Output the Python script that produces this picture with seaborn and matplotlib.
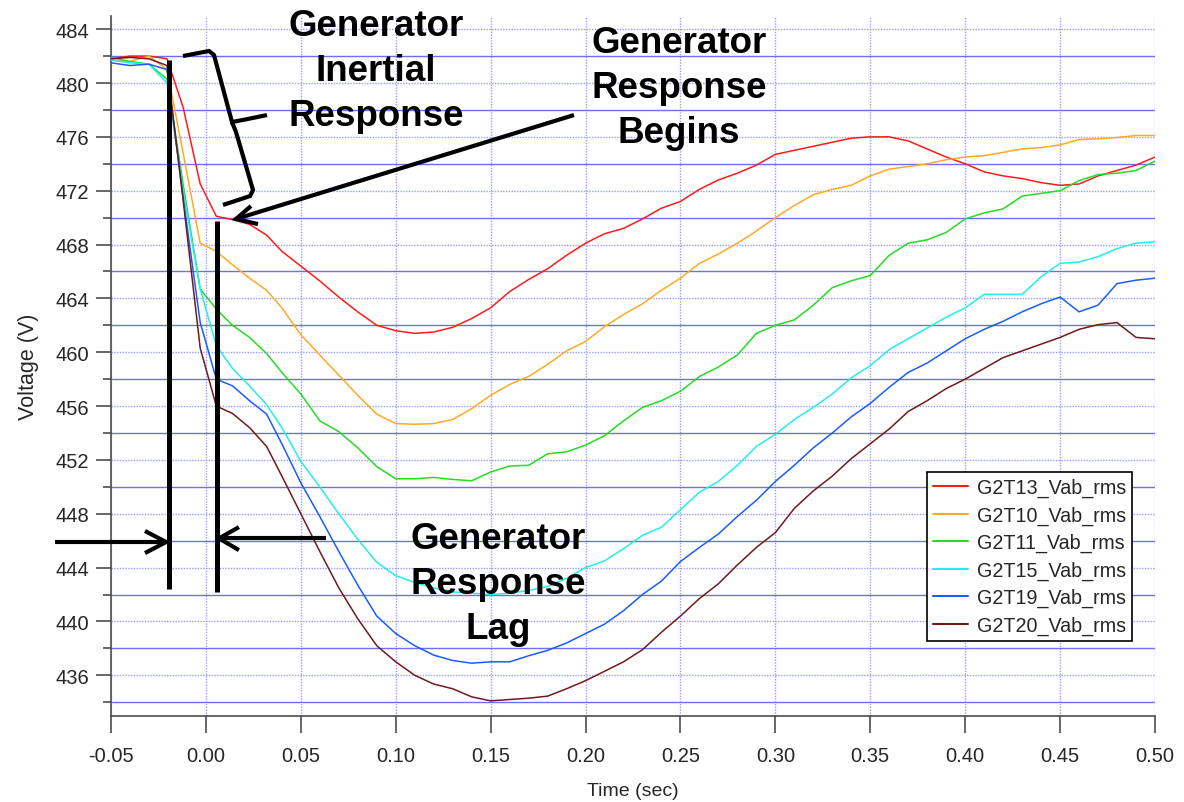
import numpy as np
import pandas as pd
import matplotlib
matplotlib.use("Agg")
import matplotlib.pyplot as plt
from matplotlib.ticker import MultipleLocator, FormatStrFormatter
from matplotlib.lines import Line2D
import seaborn as sns

# ---------------- data ----------------
time_sec = [-0.05, -0.04, -0.03, -0.0205, -0.012, -0.003, 0.0055, 0.014, 0.023, 0.032,
            0.04, 0.05, 0.06, 0.07, 0.08, 0.09, 0.10, 0.11, 0.12, 0.13,
            0.14, 0.15, 0.16, 0.17, 0.18, 0.19, 0.20, 0.21, 0.22, 0.23,
            0.24, 0.25, 0.26, 0.27, 0.28, 0.29, 0.30, 0.31, 0.32, 0.33,
            0.34, 0.35, 0.36, 0.37, 0.38, 0.39, 0.40, 0.41, 0.42, 0.43,
            0.44, 0.45, 0.46, 0.47, 0.48, 0.49, 0.50]

g2t13 = [481.8, 482.0, 482.0, 481.8, 478.2, 472.5, 470.1, 469.85, 469.5, 468.7,
         467.5, 466.4, 465.3, 464.1, 463.0, 462.0, 461.6, 461.4, 461.5, 461.85,
         462.5, 463.3, 464.5, 465.4, 466.2, 467.2, 468.1, 468.8, 469.2, 469.9,
         470.7, 471.2, 472.1, 472.8, 473.3, 473.9, 474.7, 475.0, 475.3, 475.6,
         475.9, 476.0, 476.0, 475.7, 475.1, 474.5, 474.0, 473.4, 473.1, 472.9,
         472.6, 472.4, 472.5, 473.1, 473.5, 473.9, 474.5]

g2t10 = [481.7, 481.6, 482.0, 481.0, 474.8, 468.1, 467.5, 466.5, 465.5, 464.6,
         463.3, 461.3, 459.8, 458.3, 456.8, 455.4, 454.7, 454.65, 454.7, 455.0,
         455.8, 456.8, 457.6, 458.2, 459.1, 460.1, 460.8, 461.9, 462.8, 463.6,
         464.6, 465.5, 466.6, 467.3, 468.1, 469.0, 470.0, 470.9, 471.7, 472.1,
         472.4, 473.1, 473.6, 473.8, 474.0, 474.3, 474.5, 474.6, 474.85, 475.1,
         475.2, 475.4, 475.8, 475.85, 475.95, 476.1, 476.1]

g2t11 = [481.9, 481.6, 481.4, 480.3, 472.5, 464.7, 463.2, 462.0, 461.1, 459.9,
         458.5, 456.9, 454.9, 454.1, 452.9, 451.5, 450.6, 450.6, 450.7, 450.55,
         450.45, 451.1, 451.55, 451.6, 452.45, 452.6, 453.1, 453.8, 454.9, 455.9,
         456.4, 457.1, 458.2, 458.9, 459.8, 461.4, 462.0, 462.4, 463.5, 464.8,
         465.3, 465.7, 467.2, 468.1, 468.35, 468.9, 469.9, 470.35, 470.65, 471.6,
         471.8, 472.0, 472.75, 473.2, 473.3, 473.5, 474.2]

g2t15 = [481.7, 481.5, 481.4, 480.0, 472.0, 464.7, 460.5, 458.8, 457.5, 456.1,
         454.4, 451.9, 450.0, 448.0, 446.1, 444.4, 443.4, 442.9, 442.5, 442.2,
         442.1, 442.0, 442.1, 442.3, 442.6, 443.2, 444.0, 444.5, 445.4, 446.4,
         447.0, 448.3, 449.6, 450.4, 451.6, 453.0, 453.9, 455.0, 455.9, 456.9,
         458.1, 459.0, 460.2, 461.0, 461.8, 462.6, 463.3, 464.3, 464.3, 464.3,
         465.6, 466.6, 466.7, 467.1, 467.7, 468.1, 468.2]

g2t19 = [481.5, 481.3, 481.4, 481.0, 471.5, 462.2, 458.0, 457.5, 456.4, 455.4,
         453.2, 450.3, 447.8, 445.2, 442.7, 440.4, 439.1, 438.2, 437.5, 437.1,
         436.9, 437.0, 437.0, 437.45, 437.85, 438.4, 439.1, 439.8, 440.8, 442.0,
         443.0, 444.45, 445.5, 446.5, 447.8, 449.0, 450.4, 451.6, 452.9, 454.0,
         455.2, 456.2, 457.4, 458.5, 459.2, 460.1, 461.0, 461.7, 462.3, 463.0,
         463.6, 464.1, 463.0, 463.5, 465.1, 465.35, 465.5]

g2t20 = [481.8, 481.9, 481.8, 481.3, 471.3, 460.3, 456.0, 455.45, 454.4, 453.0,
         450.8, 448.0, 445.2, 442.5, 440.2, 438.2, 437.0, 436.0, 435.35, 435.0,
         434.4, 434.1, 434.2, 434.3, 434.45, 435.0, 435.6, 436.3, 437.0, 437.9,
         439.2, 440.4, 441.7, 442.8, 444.2, 445.5, 446.6, 448.4, 449.7, 450.8,
         452.1, 453.2, 454.3, 455.6, 456.4, 457.3, 458.0, 458.8, 459.6, 460.1,
         460.6, 461.1, 461.7, 462.05, 462.2, 461.1, 461.0]

series_names = ["G2T13_Vab_rms", "G2T10_Vab_rms", "G2T11_Vab_rms",
                "G2T15_Vab_rms", "G2T19_Vab_rms", "G2T20_Vab_rms"]
series_values = [g2t13, g2t10, g2t11, g2t15, g2t19, g2t20]
series_colors = ["#ff1a1a", "#ffaa22", "#22dd22", "#22eeee", "#1a5cff", "#701a1a"]

y_ticks = list(range(436, 485, 4))
x_ticks = [-0.05, 0.00, 0.05, 0.10, 0.15, 0.20, 0.25, 0.30, 0.35, 0.40, 0.45, 0.50]

df = pd.concat(
    [pd.DataFrame({"time": time_sec, "voltage": v, "series": n})
     for n, v in zip(series_names, series_values)],
    ignore_index=True)

# ---------------- style ----------------
sns.set_style("white")
plt.rcParams["font.family"] = ["Liberation Sans", "DejaVu Sans"]
plt.rcParams["axes.unicode_minus"] = False

fig = plt.figure(figsize=(11.84, 8.03), dpi=100)
ax = fig.add_axes([0.09375, 0.1075, 0.88176, 0.8717])

palette = dict(zip(series_names, series_colors))
sns.lineplot(data=df, x="time", y="voltage", hue="series", hue_order=series_names,
             palette=palette, estimator=None, sort=False, linewidth=1.1,
             legend=False, ax=ax, zorder=3)

ax.set_xlim(-0.05, 0.50)
ax.set_ylim(433, 485)
ax.set_xticks(x_ticks)
ax.set_yticks(y_ticks)
ax.yaxis.set_minor_locator(MultipleLocator(2))
ax.xaxis.set_major_formatter(FormatStrFormatter("%.2f"))

ax.grid(which="major", axis="y", color="#9a9aff", linestyle=(0, (1, 1)), linewidth=1.0)
ax.grid(which="minor", axis="y", color="#6e6ef0", linestyle="-", linewidth=1.0)
ax.grid(which="major", axis="x", color="#9a9aff", linestyle=(0, (1, 1)), linewidth=1.0)
ax.set_axisbelow(True)

for s in ["top", "right"]:
    ax.spines[s].set_visible(False)
for s in ["left", "bottom"]:
    ax.spines[s].set_color("#4d4d4d")
    ax.spines[s].set_linewidth(1.2)

ax.tick_params(axis="y", which="major", length=10.8, width=1.2, color="#4d4d4d",
               pad=5, labelsize=14.5, direction="out", left=True)
ax.tick_params(axis="y", which="minor", length=5.8, width=1.2, color="#4d4d4d",
               direction="out", left=True)
ax.tick_params(axis="x", which="major", length=12, width=1.2, color="#4d4d4d",
               pad=10, labelsize=14.5, direction="out", bottom=True)

ax.set_xlabel("Time (sec)", fontsize=14, labelpad=12)
ax.set_ylabel("Voltage (V)", fontsize=15.5, labelpad=12)

# legend
handles = [Line2D([0], [0], color=c, lw=1.5) for c in series_colors]
leg = ax.legend(handles, series_names, loc="upper left", bbox_to_anchor=(0.7816, 0.348),
                borderaxespad=0, fontsize=14.2, frameon=True, fancybox=False,
                edgecolor="black", framealpha=1, handlelength=1.8, handletextpad=0.45,
                labelspacing=0.42, borderpad=0.3)
leg.get_frame().set_linewidth(1.2)

# ---------------- hand-drawn annotations ----------------
ann = dict(color="black", clip_on=False, zorder=6, solid_capstyle="butt",
           solid_joinstyle="miter")
# lag markers
ax.plot([-0.0194, -0.0194], [481.7, 442.4], lw=3.6, **ann)
ax.plot([0.0058, 0.0058], [469.75, 442.2], lw=3.6, **ann)
# left arrow
ax.plot([-0.0795, -0.0210], [445.9, 445.9], lw=3.0, **ann)
ax.plot([-0.0321, -0.0210, -0.0321], [446.72, 445.9, 445.08], lw=3.0, **ann)
# right arrow
ax.plot([0.0633, 0.0069], [446.17, 446.17], lw=3.0, **ann)
ax.plot([0.0174, 0.0069, 0.0174], [447.01, 446.17, 445.30], lw=3.0, **ann)
# diagonal arrow
ax.plot([0.1939, 0.01585], [477.62, 469.90], lw=3.0, **ann)
ax.plot([0.02375, 0.01585, 0.02744], [470.86, 469.90, 469.52], lw=3.0, **ann)
# brace
ax.plot([-0.01207, 0.00163, 0.00426, 0.01374, 0.02217, 0.03218],
        [482.006, 482.377, 482.08, 477.10, 477.33, 477.62], lw=3.0, **ann)
ax.plot([0.01374, 0.01585, 0.02481, 0.02323, 0.00900],
        [477.10, 476.36, 472.05, 471.60, 470.94], lw=3.0, **ann)

txt = dict(fontsize=26.5, fontweight="bold", ha="center", va="center",
           linespacing=1.37, zorder=7, color="black")
ax.text(0.0896, 480.9, "Generator\nInertial\nResponse", **txt)
ax.text(0.2492, 479.63, "Generator\nResponse\nBegins", **txt)
ax.text(0.1539, 442.85, "Generator\nResponse\nLag", **txt)

fig.savefig("out.png", dpi=100)
